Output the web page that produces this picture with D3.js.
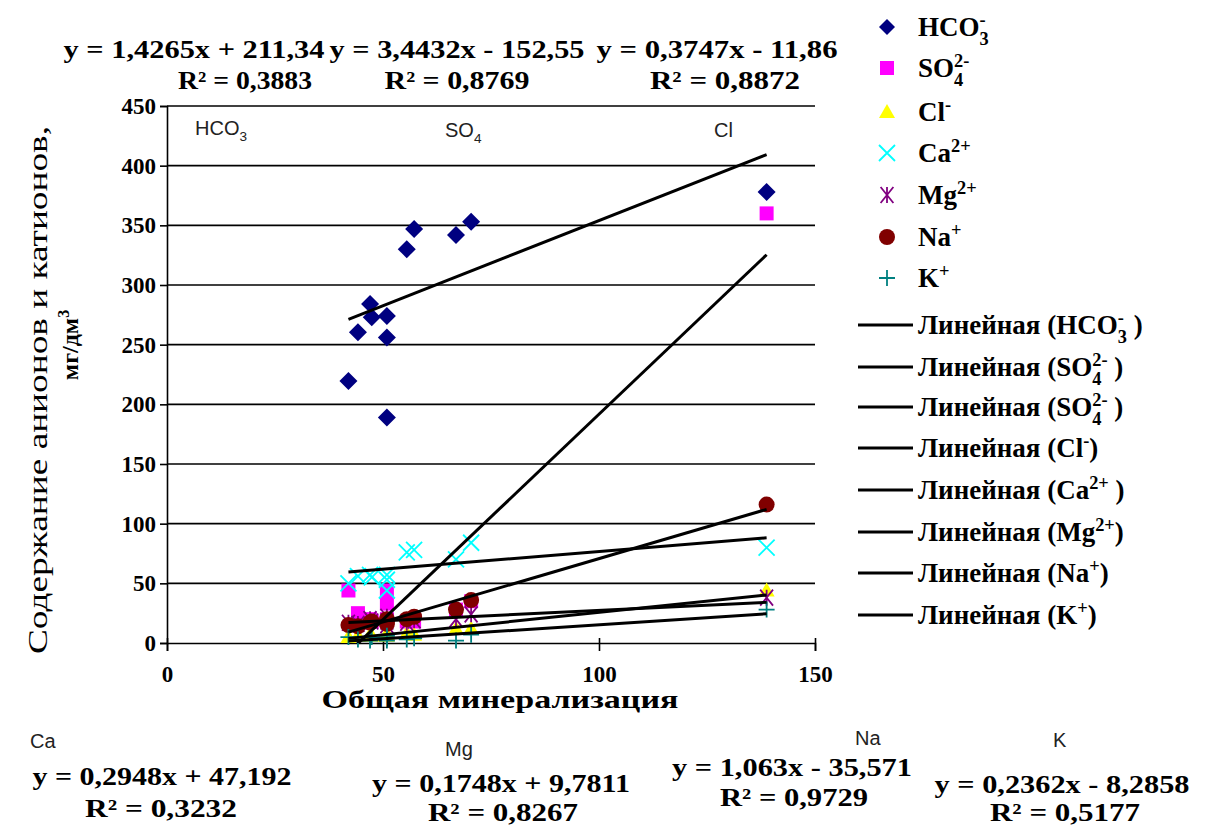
<!DOCTYPE html>
<html><head><meta charset="utf-8">
<script src="https://cdn.jsdelivr.net/npm/d3@7"></script>
<style>body{margin:0;background:#fff}svg{display:block}</style>
</head><body>
<svg id="c" width="1207" height="825"></svg>
<script>
// ---- data ----
const xValues = [42, 44.2, 47, 47.4, 50.9, 50.9, 50.9, 55.5, 57.2, 66.9, 70.4, 138.8];
const hco3 = [219.5, 260.5, 284, 273, 274, 256, 189, 330, 347, 342, 353, 378];
const so4  = [44, 25, 20, 18, 44, 33, 20, 18, 18, 28, 35, 360];
const cl   = [5, 6, 7, 6, 8, 7, 6, 8, 7, 12, 12, 44];
const ca   = [50, 56, 57, 55, 57, 44, 53, 76, 78, 70, 84, 80];
const mg   = [17, 16, 20, 18, 22, 18, 15, 17, 19, 20, 24, 38];
const na   = [15, 14, 17, 18, 20, 18, 16, 20, 22, 28, 36, 116];
const k    = [5, 3, 2, 5, 4, 2, 6, 3, 4, 2, 7, 28];
const slopes     = [1.4265, 3.4432, 0.3747, 0.2948, 0.1748, 1.063, 0.2362];
const intercepts = [211.34, -152.55, -11.86, 47.192, 9.7811, -35.571, -8.2858];
const eqTexts = ["y = 1,4265x + 211,34", "y = 3,4432x - 152,55", "y = 0,3747x - 11,86",
                 "y = 0,2948x + 47,192", "y = 0,1748x + 9,7811", "y = 1,063x - 35,571", "y = 0,2362x - 8,2858"];
const r2Texts = ["R² = 0,3883", "R² = 0,8769", "R² = 0,8872", "R² = 0,3232", "R² = 0,8267", "R² = 0,9729", "R² = 0,5177"];
const xTicks = [0, 50, 100, 150];
const yTicks = [0, 50, 100, 150, 200, 250, 300, 350, 400, 450];

const svg = d3.select('#c');
const x = d3.scaleLinear().domain([0, 150]).range([167, 815]);
const y = d3.scaleLinear().domain([0, 450]).range([643, 106]);
const SERIF = "'Liberation Serif','Times New Roman',serif";
const SANS = "'Liberation Sans',Arial,sans-serif";

// grid
svg.append('g').selectAll('line').data(yTicks.filter(v => v > 0)).join('line')
  .attr('x1', x(0)).attr('x2', x(150)).attr('y1', d => y(d)).attr('y2', d => y(d))
  .attr('stroke', '#000').attr('stroke-width', 1.6);

// axes
const yAxis = svg.append('g').attr('transform', `translate(${x(0)},0)`)
  .call(d3.axisLeft(y).tickValues(yTicks).tickSize(7).tickPadding(4));
const xAxis = svg.append('g').attr('transform', `translate(0,${y(0)})`)
  .call(d3.axisBottom(x).tickValues(xTicks).tickSize(8).tickPadding(15));
[yAxis, xAxis].forEach(a => {
  a.select('.domain').attr('stroke', '#000').attr('stroke-width', 1.6);
  a.selectAll('.tick line').attr('stroke', '#000').attr('stroke-width', 1.6);
  a.selectAll('.tick text').style('font-family', SERIF).style('font-weight', 'bold')
    .style('font-size', '23px').attr('fill', '#000');
});
xAxis.selectAll('.tick line').attr('y1', -5);

// markers
const sym = {
  diamond: s => `M0,${-s}L${s},0L0,${s}L${-s},0Z`,
  square: s => `M${-s},${-s}H${s}V${s}H${-s}Z`,
  triangle: s => `M0,${-s}L${s},${s * 0.75}L${-s},${s * 0.75}Z`,
  times: s => `M${-s},${-s}L${s},${s}M${-s},${s}L${s},${-s}`,
  star: s => `M${-s * 0.8},${-s}L${s * 0.8},${s}M${-s * 0.8},${s}L${s * 0.8},${-s}M0,${-s}V${s}`,
  plus: s => `M${-s},0H${s}M0,${-s}V${s}`
};
const series = [
  {name: 'HCO3', vals: hco3, shape: 'diamond', size: 9, color: '#000080', fill: true},
  {name: 'SO4', vals: so4, shape: 'square', size: 7, color: '#FF00FF', fill: true},
  {name: 'Cl', vals: cl, shape: 'triangle', size: 8, color: '#FFFF00', fill: true},
  {name: 'Ca', vals: ca, shape: 'times', size: 8, color: '#00FFFF', fill: false},
  {name: 'Mg', vals: mg, shape: 'star', size: 8, color: '#800080', fill: false},
  {name: 'Na', vals: na, shape: 'circle', size: 8, color: '#800000', fill: true},
  {name: 'K', vals: k, shape: 'plus', size: 8, color: '#008080', fill: false}
];
function drawMarker(g, shape, s, color, fill) {
  if (shape === 'circle') return g.append('circle').attr('r', s).attr('fill', color);
  const p = g.append('path').attr('d', sym[shape](s));
  if (fill) p.attr('fill', color); else p.attr('fill', 'none').attr('stroke', color).attr('stroke-width', 1.8);
  return p;
}
series.forEach(sr => {
  const g = svg.append('g');
  sr.vals.forEach((v, i) => {
    const m = g.append('g').attr('transform', `translate(${x(xValues[i])},${y(v)})`);
    drawMarker(m, sr.shape, sr.size, sr.color, sr.fill);
  });
});

// trend lines (clipped to plot area)
svg.append('clipPath').attr('id', 'clip').append('rect')
  .attr('x', x(0)).attr('y', y(450)).attr('width', x(150) - x(0)).attr('height', y(0) - y(450));
const xmin = d3.min(xValues), xmax = d3.max(xValues);
svg.append('g').attr('clip-path', 'url(#clip)').selectAll('line').data(slopes).join('line')
  .attr('x1', x(xmin)).attr('x2', x(xmax))
  .attr('y1', (d, i) => y(d * xmin + intercepts[i])).attr('y2', (d, i) => y(d * xmax + intercepts[i]))
  .attr('stroke', '#000').attr('stroke-width', 3);

// rich text helper
function rich(x0, y0, parts, o) {
  const grp = svg.append('g');
  const fs = o.size;
  let cx = 0;
  const mk = (t, px, py, size) => grp.append('text').attr('x', px).attr('y', py).text(t)
      .style('font-family', o.family).style('font-weight', o.weight || 'normal')
      .style('font-size', size + 'px').attr('fill', o.fill || '#000').style('white-space', 'pre');
  parts.forEach(p => {
    if (p.t) { const t = mk(p.t, cx, 0, fs); cx += t.node().getComputedTextLength(); }
    let w = 0;
    if (p.sub) { const t = mk(p.sub, cx, fs * 0.32, fs * 0.68); w = Math.max(w, t.node().getComputedTextLength()); }
    if (p.sup) { const t = mk(p.sup, cx, -fs * 0.38, fs * 0.68); w = Math.max(w, t.node().getComputedTextLength()); }
    cx += w;
  });
  const off = o.anchor === 'middle' ? -cx / 2 : 0;
  grp.attr('transform', `translate(${x0 + off},${y0})`);
  return grp;
}
function eq(t, cx, by, w) {
  svg.append('text').attr('x', cx).attr('y', by).attr('text-anchor', 'middle')
    .attr('textLength', w).attr('lengthAdjust', 'spacingAndGlyphs').text(t)
    .style('font-family', SERIF).style('font-weight', 'bold').style('font-size', '25px');
}

// top equations
const topEq = [[194, 261], [457, 255], [717, 241]];
const topR2 = [[245, 134], [457, 145], [725, 150]];
[0, 1, 2].forEach(i => {
  eq(eqTexts[i], topEq[i][0], 58, topEq[i][1]);
  eq(r2Texts[i], topR2[i][0], 89, topR2[i][1]);
});
// bottom equations
const botLab = [['Ca', 30, 748], ['Mg', 445, 756], ['Na', 855, 745], ['K', 1053, 747]];
const botEq = [[162, 785, 259], [501, 792, 258], [792, 776, 240], [1062, 793, 255]];
const botR2 = [[161, 817, 152], [503, 821, 150], [794, 806, 148], [1065, 821, 150]];
[0, 1, 2, 3].forEach(i => {
  svg.append('text').attr('x', botLab[i][1]).attr('y', botLab[i][2]).text(botLab[i][0])
    .style('font-family', SANS).style('font-size', '20px').attr('fill', '#222');
  eq(eqTexts[i + 3], botEq[i][0], botEq[i][1], botEq[i][2]);
  eq(r2Texts[i + 3], botR2[i][0], botR2[i][1], botR2[i][2]);
});

// in-plot labels
const so = {family: SANS, size: 20, fill: '#222'};
rich(195, 135, [{t: 'HCO', sub: '3'}], so);
rich(445, 137, [{t: 'SO', sub: '4'}], so);
rich(714, 137, [{t: 'Cl'}], so);

// axis titles
svg.append('text').attr('x', 500).attr('y', 708).attr('text-anchor', 'middle')
  .attr('textLength', 357).attr('lengthAdjust', 'spacingAndGlyphs')
  .text('Общая минерализация').style('font-family', SERIF).style('font-weight', 'bold').style('font-size', '26px');
svg.append('text').attr('transform', 'translate(47,390) rotate(-90)').attr('text-anchor', 'middle')
  .attr('textLength', 528).attr('lengthAdjust', 'spacingAndGlyphs')
  .text('Содержание анионов и катионов,').style('font-family', SERIF).style('font-size', '27px');
const yl2 = svg.append('text').attr('transform', 'translate(78,345) rotate(-90)').attr('text-anchor', 'middle')
  .style('font-family', SERIF).style('font-weight', 'bold').style('font-size', '24px');
yl2.append('tspan').text('мг/дм');
yl2.append('tspan').attr('dy', -9).style('font-size', '16px').text('3');

// legend
const lo = {family: SERIF, size: 27, weight: 'bold'};
const legParts = [
  [{t: 'HCO', sub: '3', sup: '-'}],
  [{t: 'SO', sub: '4', sup: '2-'}],
  [{t: 'Cl', sup: '-'}],
  [{t: 'Ca', sup: '2+'}],
  [{t: 'Mg', sup: '2+'}],
  [{t: 'Na', sup: '+'}],
  [{t: 'K', sup: '+'}]
];
const legY = [27, 68, 112, 153, 195, 237, 278];
series.forEach((sr, i) => {
  const m = svg.append('g').attr('transform', `translate(887,${legY[i]})`);
  drawMarker(m, sr.shape, sr.shape === 'diamond' ? 8 : sr.size, sr.color, sr.fill);
  rich(918, legY[i] + 9, legParts[i], lo);
});
const trendLeg = [
  [{t: 'Линейная (HCO', sub: '3', sup: '-'}, {t: ' )'}],
  [{t: 'Линейная (SO', sub: '4', sup: '2-'}, {t: ' )'}],
  [{t: 'Линейная (SO', sub: '4', sup: '2-'}, {t: ' )'}],
  [{t: 'Линейная (Cl', sup: '-'}, {t: ')'}],
  [{t: 'Линейная (Ca', sup: '2+'}, {t: ' )'}],
  [{t: 'Линейная (Mg', sup: '2+'}, {t: ')'}],
  [{t: 'Линейная (Na', sup: '+'}, {t: ')'}],
  [{t: 'Линейная (K', sup: '+'}, {t: ')'}]
];
const tlY = [325, 367, 407, 448, 490, 532, 573, 615];
trendLeg.forEach((p, i) => {
  svg.append('line').attr('x1', 858).attr('x2', 913).attr('y1', tlY[i]).attr('y2', tlY[i])
    .attr('stroke', '#000').attr('stroke-width', 3);
  rich(918, tlY[i] + 9, p, lo);
});
</script>
</body></html>
